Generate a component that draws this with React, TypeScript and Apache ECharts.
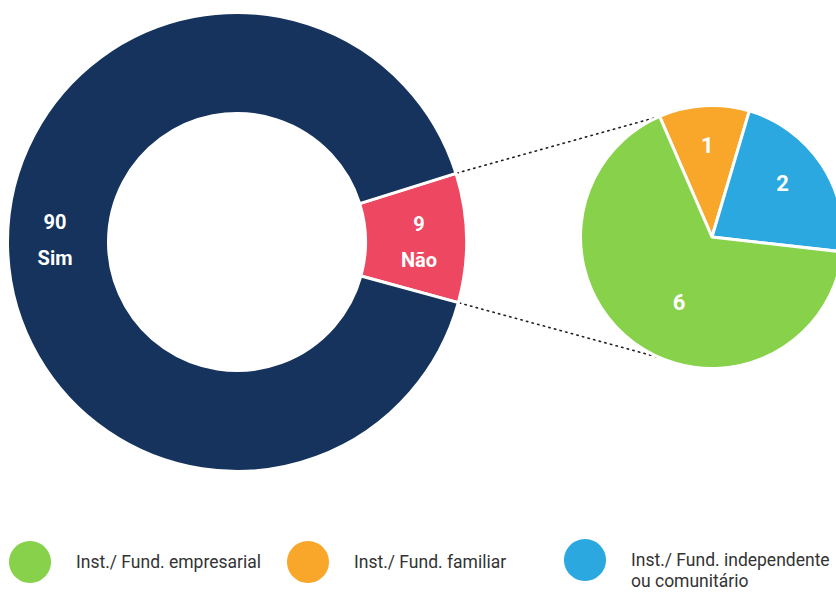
import React, { useEffect, useRef } from "react";
import * as echarts from "echarts";

const donutNames = ["Não", "Sim"];
const donutValues = [9, 90];
const pieNames = ["Inst./ Fund. familiar", "Inst./ Fund. independente ou comunitário", "Inst./ Fund. empresarial"];
const pieValues = [1, 2, 6];
const legendOrder = ["Inst./ Fund. empresarial", "Inst./ Fund. familiar", "Inst./ Fund. independente ou comunitário"];

const NAVY = "#15335d";
const RED = "#ee4761";
const ORANGE = "#f8a72a";
const BLUE = "#2ba8e0";
const GREEN = "#88d14a";

export default function App() {
  const ref = useRef<HTMLDivElement>(null);
  useEffect(() => {
    if (!ref.current) return;
    const chart = echarts.init(ref.current, undefined, { renderer: "svg" });

    const dC = [237, 242];
    const dR0 = 128.5;
    const dR = 229.5;
    const dStart = 17.4;
    const pC = [712, 237];
    const pR = 131.5;
    const pStart = 113.5;

    const total = donutValues.reduce((a, b) => a + b, 0);
    const a1 = (dStart * Math.PI) / 180;
    const a2 = ((dStart - (360 * donutValues[0]) / total) * Math.PI) / 180;
    const b1 = (pStart * Math.PI) / 180;
    const b2 = (-pStart * Math.PI) / 180;
    const rr = dR + 1;
    const lineStyle = { stroke: "#222", lineWidth: 1.6, lineDash: [1.4, 4.4], lineCap: "round" };

    const legendBase = {
      orient: "horizontal",
      padding: 0,
      itemWidth: 42,
      itemHeight: 42,
      icon: "circle",
      selectedMode: false,
      itemStyle: { borderWidth: 0 },
      textStyle: { color: "#333", fontSize: 17.5, fontFamily: "Roboto", lineHeight: 21, padding: [0, 0, 0, 20] },
    };

    chart.setOption({
      animation: false,
      backgroundColor: "#fff",
      legend: [
        { ...legendBase, data: [legendOrder[0]], left: 9, top: 541 },
        { ...legendBase, data: [legendOrder[1]], left: 287, top: 541 },
        {
          ...legendBase,
          data: [legendOrder[2]],
          left: 564,
          top: 528.5,
          formatter: () => "\nInst./ Fund. independente\nou comunitário",
        },
      ],
      series: [
        {
          type: "pie",
          silent: true,
          center: dC,
          radius: [dR0, dR],
          startAngle: dStart,
          clockwise: true,
          data: donutNames.map((n, i) => ({ name: n, value: donutValues[i] })),
          color: [RED, NAVY],
          itemStyle: { borderColor: "#fff", borderWidth: 3 },
          label: {
            show: true,
            position: "inside",
            formatter: "{c}\n{b}",
            color: "#fff",
            fontSize: 20,
            fontWeight: "bold",
            fontFamily: "Roboto",
            lineHeight: 36,
          },
          labelLayout: (p: any) => ({ dy: p.dataIndex === 0 ? 3 : -5 }),
          labelLine: { show: false },
          emphasis: { disabled: true },
        },
        {
          type: "pie",
          silent: true,
          center: pC,
          radius: [0, pR],
          startAngle: pStart,
          clockwise: true,
          data: pieNames.map((n, i) => ({
            name: n,
            value: pieValues[i],
            label: { show: i === 2 },
          })),
          color: [ORANGE, BLUE, GREEN],
          itemStyle: { borderColor: "#fff", borderWidth: 3 },
          label: {
            position: "inside",
            formatter: "{c}",
            color: "#fff",
            fontSize: 22,
            fontWeight: "bold",
            fontFamily: "Roboto",
          },
          labelLayout: { dx: 8, dy: 10 },
          labelLine: { show: false },
          emphasis: { disabled: true },
        },
        {
          type: "pie",
          silent: true,
          center: pC,
          radius: [0, 180],
          startAngle: pStart,
          clockwise: true,
          data: pieNames.map((n, i) => ({
            name: n,
            value: pieValues[i],
            label: { show: i !== 2 },
          })),
          itemStyle: { color: "rgba(0,0,0,0)", borderWidth: 0 },
          label: {
            position: "inside",
            formatter: "{c}",
            color: "#fff",
            fontSize: 22,
            fontWeight: "bold",
            fontFamily: "Roboto",
          },
          labelLayout: (p: any) => ({ dx: p.dataIndex === 1 ? -7 : 1, dy: p.dataIndex === 1 ? -2 : 1 }),
          labelLine: { show: false },
          emphasis: { disabled: true },
        },
      ],
      graphic: [
        {
          type: "line",
          silent: true,
          shape: {
            x1: dC[0] + rr * Math.cos(a1),
            y1: dC[1] - rr * Math.sin(a1),
            x2: pC[0] + pR * Math.cos(b1),
            y2: pC[1] - pR * Math.sin(b1),
          },
          style: lineStyle,
        },
        {
          type: "line",
          silent: true,
          shape: {
            x1: dC[0] + rr * Math.cos(a2),
            y1: dC[1] - rr * Math.sin(a2),
            x2: pC[0] + pR * Math.cos(b2),
            y2: pC[1] - pR * Math.sin(b2),
          },
          style: lineStyle,
        },
      ],
    });
    return () => chart.dispose();
  }, []);
  return (
    <div
      ref={ref}
      style={{ position: "fixed", left: 0, top: 0, width: 836, height: 592 }}
    />
  );
}
